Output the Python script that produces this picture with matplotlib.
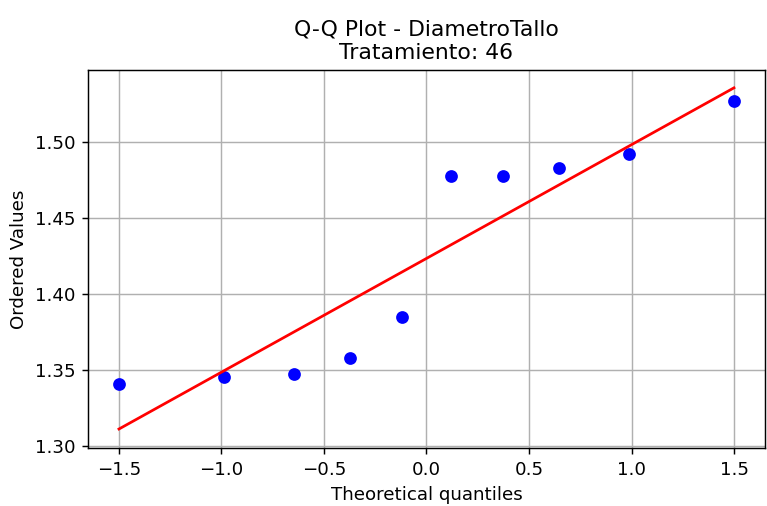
import numpy as np
import matplotlib
matplotlib.use('Agg')
import matplotlib.pyplot as plt

# theoretical quantiles (normal, Filliben order statistic medians, n=10)
theoretical = [-1.499, -0.985, -0.647, -0.372, -0.121, 0.121, 0.372, 0.647, 0.985, 1.499]
# ordered sample values
ordered = [1.3407, 1.3457, 1.3476, 1.3581, 1.3851, 1.4775, 1.4775, 1.4827, 1.4921, 1.5270]

x = np.array(theoretical)
y = np.array(ordered)
slope, intercept = np.polyfit(x, y, 1)

dpi = 131
fig, ax = plt.subplots(figsize=(767 / dpi, 506 / dpi), dpi=dpi)
ax.plot(x, y, 'bo')
ax.plot(x, slope * x + intercept, 'r-')
ax.set_title('Q-Q Plot - DiametroTallo\nTratamiento: 46')
ax.set_xlabel('Theoretical quantiles')
ax.set_ylabel('Ordered Values')
ax.set_ylim(1.299, 1.5473)
ax.grid(True)
fig.subplots_adjust(left=0.115, right=0.997, bottom=0.115, top=0.862)
fig.savefig('out.png', dpi=dpi)
